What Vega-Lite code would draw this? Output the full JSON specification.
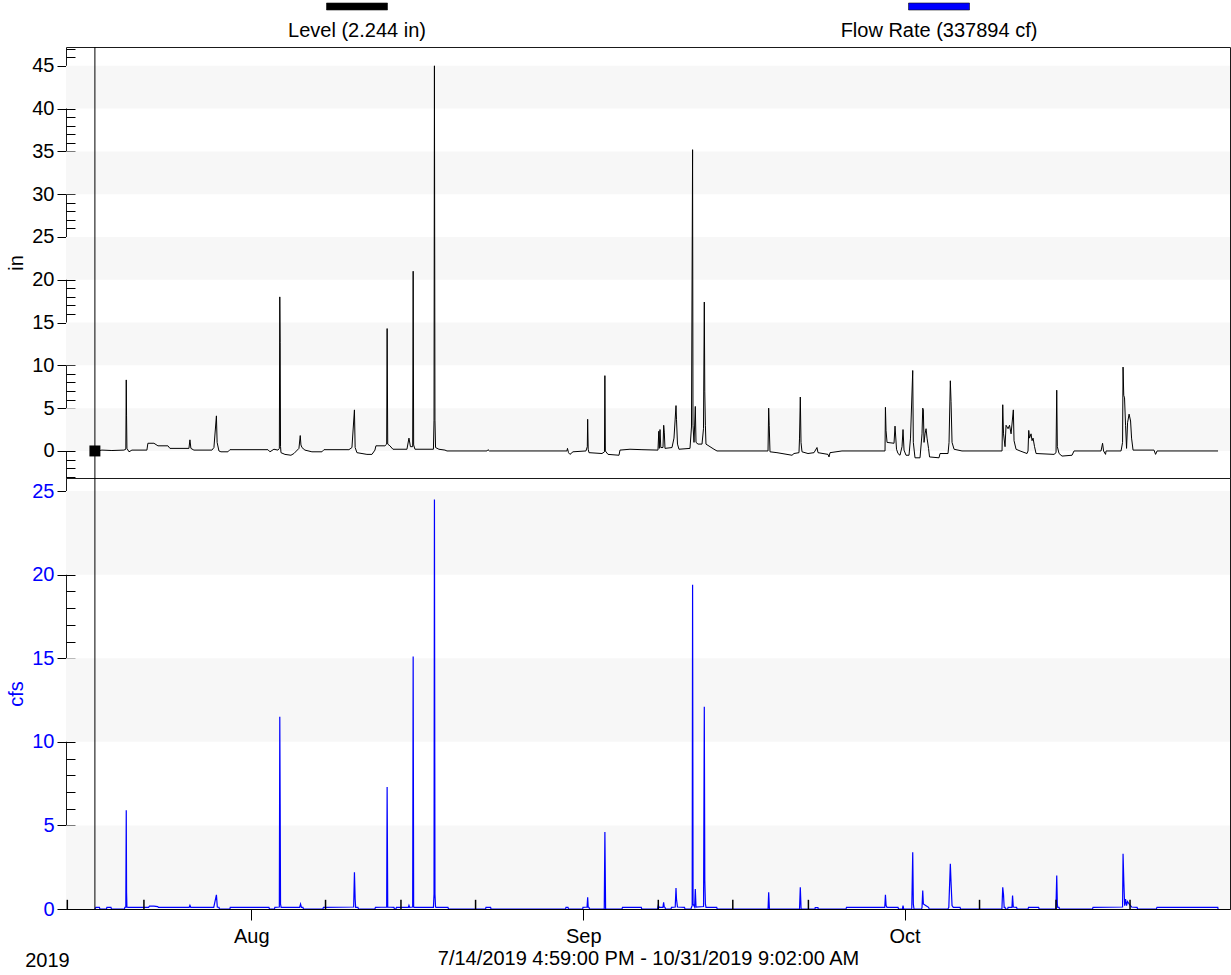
{
  "$schema": "https://vega.github.io/schema/vega-lite/v6.json",
  "background": "white",
  "padding": {"left": 6, "top": 0, "right": 3, "bottom": 0},
  "spacing": 0,
  "bounds": "flush",
  "config": {
    "font": "Liberation Sans",
    "view": {"stroke": "#1a1a1a", "strokeWidth": 1},
    "axis": {"labelFont": "Liberation Sans", "titleFont": "Liberation Sans", "labelFontSize": 20, "titleFontSize": 20, "titleFontWeight": "normal", "labelColor": "black", "titleColor": "black", "tickColor": "black", "domainColor": "black", "grid": false, "labelFlush": false},
    "tick": {"opacity": 1},
    "point": {"opacity": 1}
  },
  "datasets": {
    "legend": [{"series": "Level (2.244 in)"}, {"series": "Flow Rate (337894 cf)"}],
    "cursor": [{"t": "2019-07-17T09:45", "v": 0}],
    "bands1": [{"lo": 0, "hi": 5}, {"lo": 10, "hi": 15}, {"lo": 20, "hi": 25}, {"lo": 30, "hi": 35}, {"lo": 40, "hi": 45}],
    "bands2": [{"lo": 0, "hi": 5}, {"lo": 10, "hi": 15}, {"lo": 20, "hi": 25}],
    "marks": [
      {"t": "2019-07-14T19:55", "lo": 0, "h": 0.55}, {"t": "2019-07-21T23:35", "lo": 0, "h": 0.55}, {"t": "2019-08-07T22:30", "lo": 0, "h": 0.55},
      {"t": "2019-08-14T23:30", "lo": 0, "h": 0.55}, {"t": "2019-08-21T22:40", "lo": 0, "h": 0.55}, {"t": "2019-09-08T00:05", "lo": 0, "h": 0.55},
      {"t": "2019-09-14T23:00", "lo": 0, "h": 0.55}, {"t": "2019-09-22T00:25", "lo": 0, "h": 0.55}, {"t": "2019-10-07T23:50", "lo": 0, "h": 0.55},
      {"t": "2019-10-15T03:15", "lo": 0, "h": 0.55}, {"t": "2019-10-22T01:05", "lo": 0, "h": 0.55}
    ],
    "level": [
      {"t": "2019-07-17T14:15", "v": 0.0}, {"t": "2019-07-18T01:30", "v": 0.1}, {"t": "2019-07-18T23:50", "v": 0.05},
      {"t": "2019-07-20T02:45", "v": 0.1}, {"t": "2019-07-20T07:00", "v": 0.2}, {"t": "2019-07-20T08:00", "v": 8.3},
      {"t": "2019-07-20T08:40", "v": 4.1}, {"t": "2019-07-20T09:30", "v": 0.3}, {"t": "2019-07-20T14:10", "v": -0.1},
      {"t": "2019-07-20T20:40", "v": 0.1}, {"t": "2019-07-22T06:15", "v": 0.1}, {"t": "2019-07-22T08:30", "v": 0.9},
      {"t": "2019-07-22T22:00", "v": 0.9}, {"t": "2019-07-23T07:00", "v": 0.6}, {"t": "2019-07-24T05:20", "v": 0.6},
      {"t": "2019-07-24T09:50", "v": 0.3}, {"t": "2019-07-26T04:25", "v": 0.3}, {"t": "2019-07-26T06:40", "v": 1.3},
      {"t": "2019-07-26T08:50", "v": 0.3}, {"t": "2019-07-26T15:35", "v": 0.1}, {"t": "2019-07-28T07:55", "v": 0.1},
      {"t": "2019-07-28T12:25", "v": 0.4}, {"t": "2019-07-28T18:00", "v": 4.1}, {"t": "2019-07-28T19:35", "v": 1.0},
      {"t": "2019-07-28T23:40", "v": 0.0}, {"t": "2019-07-29T04:10", "v": -0.1}, {"t": "2019-07-29T19:45", "v": -0.1},
      {"t": "2019-07-30T00:15", "v": 0.15}, {"t": "2019-08-02T13:25", "v": 0.15}, {"t": "2019-08-02T17:55", "v": -0.1},
      {"t": "2019-08-03T02:50", "v": 0.2}, {"t": "2019-08-03T11:50", "v": 0.1}, {"t": "2019-08-03T15:00", "v": 0.3},
      {"t": "2019-08-03T16:00", "v": 18.0}, {"t": "2019-08-03T16:50", "v": 12.7}, {"t": "2019-08-03T17:40", "v": 0.5},
      {"t": "2019-08-03T18:40", "v": -0.2}, {"t": "2019-08-04T03:30", "v": -0.4}, {"t": "2019-08-04T17:00", "v": -0.5},
      {"t": "2019-08-04T23:40", "v": -0.3}, {"t": "2019-08-05T10:55", "v": 0.3}, {"t": "2019-08-05T13:50", "v": 1.8},
      {"t": "2019-08-05T15:25", "v": 0.7}, {"t": "2019-08-05T17:40", "v": 0.4}, {"t": "2019-08-06T00:20", "v": 0.1},
      {"t": "2019-08-06T16:00", "v": -0.1}, {"t": "2019-08-07T14:25", "v": -0.1}, {"t": "2019-08-07T18:55", "v": 0.15},
      {"t": "2019-08-10T02:55", "v": 0.15}, {"t": "2019-08-10T09:40", "v": 0.4}, {"t": "2019-08-10T15:15", "v": 4.8},
      {"t": "2019-08-10T16:50", "v": 0.4}, {"t": "2019-08-10T20:50", "v": -0.2}, {"t": "2019-08-11T19:15", "v": -0.4},
      {"t": "2019-08-12T06:30", "v": -0.4}, {"t": "2019-08-12T13:10", "v": 0.1}, {"t": "2019-08-12T15:25", "v": 0.6},
      {"t": "2019-08-13T11:35", "v": 0.6}, {"t": "2019-08-13T15:30", "v": 0.8}, {"t": "2019-08-13T16:30", "v": 14.3},
      {"t": "2019-08-13T17:50", "v": 0.8}, {"t": "2019-08-13T22:45", "v": 0.6}, {"t": "2019-08-14T05:30", "v": 0.2},
      {"t": "2019-08-15T12:55", "v": 0.2}, {"t": "2019-08-15T17:25", "v": 1.5}, {"t": "2019-08-15T20:45", "v": 0.5},
      {"t": "2019-08-16T01:45", "v": 0.5}, {"t": "2019-08-16T02:50", "v": 21.0}, {"t": "2019-08-16T03:55", "v": 0.7},
      {"t": "2019-08-16T06:50", "v": 0.2}, {"t": "2019-08-18T00:15", "v": 0.2}, {"t": "2019-08-18T01:35", "v": 3.6},
      {"t": "2019-08-18T02:30", "v": 45.0}, {"t": "2019-08-18T03:40", "v": 3.6}, {"t": "2019-08-18T05:00", "v": 0.4},
      {"t": "2019-08-18T12:35", "v": 0.2}, {"t": "2019-08-19T02:05", "v": 0.1}, {"t": "2019-08-19T06:35", "v": 0.0},
      {"t": "2019-08-23T00:10", "v": 0.0}, {"t": "2019-08-23T02:25", "v": 0.15}, {"t": "2019-08-23T05:50", "v": 0.0},
      {"t": "2019-08-30T11:25", "v": 0.0}, {"t": "2019-08-30T12:35", "v": 0.3}, {"t": "2019-08-30T14:50", "v": -0.2},
      {"t": "2019-08-30T18:10", "v": -0.4}, {"t": "2019-08-31T00:55", "v": -0.1}, {"t": "2019-09-01T06:00", "v": 0.0},
      {"t": "2019-09-01T09:00", "v": 0.5}, {"t": "2019-09-01T09:50", "v": 3.7}, {"t": "2019-09-01T11:00", "v": 0.2},
      {"t": "2019-09-01T12:45", "v": -0.2}, {"t": "2019-09-02T17:55", "v": -0.3}, {"t": "2019-09-02T23:30", "v": -0.1},
      {"t": "2019-09-03T00:25", "v": 8.8}, {"t": "2019-09-03T01:30", "v": 0.0}, {"t": "2019-09-03T07:20", "v": -0.4},
      {"t": "2019-09-04T08:00", "v": -0.5}, {"t": "2019-09-04T10:15", "v": 0.1}, {"t": "2019-09-05T08:40", "v": 0.2},
      {"t": "2019-09-06T11:30", "v": 0.15}, {"t": "2019-09-07T23:20", "v": 0.1}, {"t": "2019-09-08T01:10", "v": 2.3},
      {"t": "2019-09-08T02:20", "v": 0.3}, {"t": "2019-09-08T03:55", "v": 2.5}, {"t": "2019-09-08T05:40", "v": 0.4},
      {"t": "2019-09-08T10:35", "v": 0.4}, {"t": "2019-09-08T12:10", "v": 3.0}, {"t": "2019-09-08T13:30", "v": 2.2},
      {"t": "2019-09-08T15:05", "v": 0.3}, {"t": "2019-09-09T06:45", "v": 0.4}, {"t": "2019-09-09T11:15", "v": 1.5},
      {"t": "2019-09-09T15:45", "v": 5.3}, {"t": "2019-09-09T16:50", "v": 3.7}, {"t": "2019-09-09T19:05", "v": 0.8},
      {"t": "2019-09-09T22:25", "v": 0.2}, {"t": "2019-09-10T23:05", "v": 0.3}, {"t": "2019-09-11T02:25", "v": 2.8},
      {"t": "2019-09-11T04:55", "v": 35.2}, {"t": "2019-09-11T05:50", "v": 3.0}, {"t": "2019-09-11T08:05", "v": 1.0},
      {"t": "2019-09-11T11:00", "v": 5.2}, {"t": "2019-09-11T12:35", "v": 1.0}, {"t": "2019-09-11T17:05", "v": 0.8},
      {"t": "2019-09-12T02:00", "v": 0.8}, {"t": "2019-09-12T05:20", "v": 2.6}, {"t": "2019-09-12T07:10", "v": 17.4},
      {"t": "2019-09-12T08:15", "v": 6.9}, {"t": "2019-09-12T09:35", "v": 3.0}, {"t": "2019-09-12T10:55", "v": 0.8},
      {"t": "2019-09-12T19:55", "v": 0.5}, {"t": "2019-09-13T04:50", "v": 0.2}, {"t": "2019-09-13T11:35", "v": 0.0},
      {"t": "2019-09-18T05:55", "v": 0.0}, {"t": "2019-09-18T07:25", "v": 5.0}, {"t": "2019-09-18T08:35", "v": 3.0},
      {"t": "2019-09-18T10:20", "v": -0.1}, {"t": "2019-09-19T02:00", "v": -0.2}, {"t": "2019-09-20T11:40", "v": -0.5},
      {"t": "2019-09-20T16:10", "v": -0.3}, {"t": "2019-09-21T03:20", "v": -0.2}, {"t": "2019-09-21T04:30", "v": 1.5},
      {"t": "2019-09-21T06:15", "v": 6.3}, {"t": "2019-09-21T07:50", "v": 1.0}, {"t": "2019-09-21T10:05", "v": -0.1},
      {"t": "2019-09-21T23:30", "v": -0.3}, {"t": "2019-09-22T13:00", "v": -0.2}, {"t": "2019-09-22T19:40", "v": 0.4},
      {"t": "2019-09-22T21:55", "v": -0.2}, {"t": "2019-09-23T20:20", "v": -0.4}, {"t": "2019-09-23T22:35", "v": -0.7},
      {"t": "2019-09-24T00:50", "v": -0.2}, {"t": "2019-09-25T03:40", "v": 0.0}, {"t": "2019-09-29T04:05", "v": 0.0},
      {"t": "2019-09-29T05:00", "v": 5.1}, {"t": "2019-09-29T06:20", "v": 2.4}, {"t": "2019-09-29T08:35", "v": 1.0},
      {"t": "2019-09-30T00:15", "v": 0.9}, {"t": "2019-09-30T02:30", "v": 2.9}, {"t": "2019-09-30T05:50", "v": 0.2},
      {"t": "2019-09-30T09:10", "v": -0.3}, {"t": "2019-09-30T13:40", "v": -0.5}, {"t": "2019-09-30T18:10", "v": 0.5},
      {"t": "2019-09-30T20:25", "v": 2.5}, {"t": "2019-09-30T22:40", "v": 0.1}, {"t": "2019-10-01T03:05", "v": -0.5},
      {"t": "2019-10-01T09:50", "v": -0.5}, {"t": "2019-10-01T13:10", "v": 1.5}, {"t": "2019-10-01T18:10", "v": 9.4},
      {"t": "2019-10-01T19:30", "v": 1.0}, {"t": "2019-10-01T23:15", "v": -0.8}, {"t": "2019-10-02T10:30", "v": -0.8},
      {"t": "2019-10-02T15:00", "v": 2.0}, {"t": "2019-10-02T16:35", "v": 5.0}, {"t": "2019-10-02T17:55", "v": 4.8},
      {"t": "2019-10-02T19:30", "v": 1.0}, {"t": "2019-10-02T21:45", "v": 2.0}, {"t": "2019-10-03T00:00", "v": 2.6},
      {"t": "2019-10-03T02:15", "v": 1.5}, {"t": "2019-10-03T05:35", "v": 0.3}, {"t": "2019-10-03T07:50", "v": -0.7},
      {"t": "2019-10-04T05:05", "v": -0.8}, {"t": "2019-10-04T07:20", "v": -0.3}, {"t": "2019-10-05T01:15", "v": -0.3},
      {"t": "2019-10-05T03:30", "v": 1.0}, {"t": "2019-10-05T06:25", "v": 8.2}, {"t": "2019-10-05T08:00", "v": 5.8},
      {"t": "2019-10-05T10:15", "v": 1.0}, {"t": "2019-10-05T14:45", "v": 0.2}, {"t": "2019-10-06T08:35", "v": 0.0},
      {"t": "2019-10-10T02:15", "v": 0.0}, {"t": "2019-10-10T03:50", "v": 5.4}, {"t": "2019-10-10T05:35", "v": 2.0},
      {"t": "2019-10-10T09:00", "v": 0.5}, {"t": "2019-10-10T11:15", "v": 3.0}, {"t": "2019-10-10T15:45", "v": 2.6},
      {"t": "2019-10-10T19:05", "v": 3.0}, {"t": "2019-10-10T22:30", "v": 2.0}, {"t": "2019-10-11T03:35", "v": 4.8},
      {"t": "2019-10-11T05:10", "v": 1.2}, {"t": "2019-10-11T09:40", "v": 0.2}, {"t": "2019-10-11T18:40", "v": 0.0},
      {"t": "2019-10-12T10:15", "v": -0.3}, {"t": "2019-10-12T12:30", "v": 0.0}, {"t": "2019-10-12T14:05", "v": 2.4},
      {"t": "2019-10-12T15:50", "v": 1.5}, {"t": "2019-10-12T19:15", "v": 2.0}, {"t": "2019-10-12T21:30", "v": 1.2},
      {"t": "2019-10-12T23:45", "v": 1.5}, {"t": "2019-10-13T03:05", "v": 0.5}, {"t": "2019-10-13T06:30", "v": -0.3},
      {"t": "2019-10-14T22:45", "v": -0.4}, {"t": "2019-10-15T03:15", "v": -0.2}, {"t": "2019-10-15T04:50", "v": 7.1},
      {"t": "2019-10-15T06:10", "v": 0.5}, {"t": "2019-10-15T10:00", "v": -0.3}, {"t": "2019-10-15T16:40", "v": -0.6},
      {"t": "2019-10-16T15:05", "v": -0.5}, {"t": "2019-10-16T19:35", "v": 0.0}, {"t": "2019-10-19T08:05", "v": 0.0},
      {"t": "2019-10-19T11:30", "v": 0.9}, {"t": "2019-10-19T13:45", "v": 0.0}, {"t": "2019-10-19T18:10", "v": -0.4},
      {"t": "2019-10-19T19:20", "v": 0.0}, {"t": "2019-10-21T04:55", "v": 0.0}, {"t": "2019-10-21T08:20", "v": 1.0},
      {"t": "2019-10-21T09:25", "v": 9.8}, {"t": "2019-10-21T11:00", "v": 6.5}, {"t": "2019-10-21T12:45", "v": 6.2},
      {"t": "2019-10-21T15:00", "v": 3.0}, {"t": "2019-10-21T17:15", "v": 0.3}, {"t": "2019-10-21T19:30", "v": 3.3},
      {"t": "2019-10-21T22:55", "v": 4.3}, {"t": "2019-10-22T02:15", "v": 3.5}, {"t": "2019-10-22T04:30", "v": 1.5},
      {"t": "2019-10-22T07:50", "v": 0.1}, {"t": "2019-10-24T06:50", "v": 0.1}, {"t": "2019-10-24T10:15", "v": -0.4},
      {"t": "2019-10-24T13:35", "v": 0.0}, {"t": "2019-10-30T06:15", "v": 0.0}
    ],
    "flow": [
      {"t": "2019-07-17T09:45", "v": 0}, {"t": "2019-07-17T12:00", "v": 0.1}, {"t": "2019-07-17T19:50", "v": 0.1},
      {"t": "2019-07-17T21:00", "v": 0}, {"t": "2019-07-18T11:45", "v": 0}, {"t": "2019-07-18T12:40", "v": 0.1},
      {"t": "2019-07-18T21:40", "v": 0.1}, {"t": "2019-07-18T22:50", "v": 0}, {"t": "2019-07-20T03:50", "v": 0},
      {"t": "2019-07-20T05:00", "v": 0.1}, {"t": "2019-07-20T07:00", "v": 0.12}, {"t": "2019-07-20T08:00", "v": 5.9},
      {"t": "2019-07-20T08:40", "v": 1.0}, {"t": "2019-07-20T09:30", "v": 0.12}, {"t": "2019-07-20T12:00", "v": 0.1},
      {"t": "2019-07-22T10:00", "v": 0.1}, {"t": "2019-07-22T12:00", "v": 0.17}, {"t": "2019-07-22T22:00", "v": 0.17},
      {"t": "2019-07-23T06:15", "v": 0.14}, {"t": "2019-07-23T08:00", "v": 0.1}, {"t": "2019-07-26T05:00", "v": 0.1},
      {"t": "2019-07-26T06:40", "v": 0.22}, {"t": "2019-07-26T08:30", "v": 0.1}, {"t": "2019-07-28T12:00", "v": 0.1},
      {"t": "2019-07-28T18:00", "v": 0.85}, {"t": "2019-07-28T20:00", "v": 0.12}, {"t": "2019-07-28T23:40", "v": 0.1},
      {"t": "2019-07-29T00:50", "v": 0}, {"t": "2019-07-30T00:15", "v": 0}, {"t": "2019-07-30T01:00", "v": 0.1},
      {"t": "2019-08-02T15:40", "v": 0.1}, {"t": "2019-08-02T16:50", "v": 0}, {"t": "2019-08-03T04:00", "v": 0},
      {"t": "2019-08-03T05:00", "v": 0.1}, {"t": "2019-08-03T15:00", "v": 0.12}, {"t": "2019-08-03T16:00", "v": 11.5},
      {"t": "2019-08-03T16:50", "v": 6.3}, {"t": "2019-08-03T17:40", "v": 0.3}, {"t": "2019-08-03T19:00", "v": 0.1},
      {"t": "2019-08-05T12:30", "v": 0.1}, {"t": "2019-08-05T14:30", "v": 0.3}, {"t": "2019-08-05T16:30", "v": 0.1},
      {"t": "2019-08-05T19:50", "v": 0.1}, {"t": "2019-08-05T21:00", "v": 0}, {"t": "2019-08-07T16:40", "v": 0},
      {"t": "2019-08-07T17:50", "v": 0.1}, {"t": "2019-08-10T13:30", "v": 0.12}, {"t": "2019-08-10T15:15", "v": 2.2},
      {"t": "2019-08-10T16:50", "v": 0.6}, {"t": "2019-08-10T18:00", "v": 0.1}, {"t": "2019-08-10T23:05", "v": 0.1},
      {"t": "2019-08-11T00:15", "v": 0}, {"t": "2019-08-12T13:10", "v": 0}, {"t": "2019-08-12T14:20", "v": 0.1},
      {"t": "2019-08-13T15:30", "v": 0.12}, {"t": "2019-08-13T16:30", "v": 7.3}, {"t": "2019-08-13T17:50", "v": 0.12},
      {"t": "2019-08-14T07:45", "v": 0.1}, {"t": "2019-08-14T08:50", "v": 0}, {"t": "2019-08-14T12:10", "v": 0},
      {"t": "2019-08-14T13:20", "v": 0.1}, {"t": "2019-08-15T16:00", "v": 0.1}, {"t": "2019-08-15T17:25", "v": 0.22},
      {"t": "2019-08-15T19:00", "v": 0.1}, {"t": "2019-08-16T01:45", "v": 0.12}, {"t": "2019-08-16T02:50", "v": 15.1},
      {"t": "2019-08-16T03:55", "v": 0.12}, {"t": "2019-08-16T05:00", "v": 0.1}, {"t": "2019-08-18T00:15", "v": 0.1},
      {"t": "2019-08-18T01:35", "v": 0.9}, {"t": "2019-08-18T02:30", "v": 24.5}, {"t": "2019-08-18T03:40", "v": 0.9},
      {"t": "2019-08-18T05:00", "v": 0.12}, {"t": "2019-08-18T07:00", "v": 0.1}, {"t": "2019-08-19T08:45", "v": 0.1},
      {"t": "2019-08-19T10:00", "v": 0}, {"t": "2019-08-22T21:05", "v": 0}, {"t": "2019-08-22T22:00", "v": 0.1},
      {"t": "2019-08-23T08:20", "v": 0.1}, {"t": "2019-08-23T09:15", "v": 0}, {"t": "2019-08-30T08:20", "v": 0},
      {"t": "2019-08-30T09:15", "v": 0.1}, {"t": "2019-08-30T13:45", "v": 0.1}, {"t": "2019-08-30T14:50", "v": 0},
      {"t": "2019-08-31T22:40", "v": 0}, {"t": "2019-08-31T23:20", "v": 0.1}, {"t": "2019-09-01T08:30", "v": 0.12},
      {"t": "2019-09-01T09:50", "v": 0.7}, {"t": "2019-09-01T11:00", "v": 0.12}, {"t": "2019-09-01T12:45", "v": 0.1},
      {"t": "2019-09-01T14:00", "v": 0}, {"t": "2019-09-02T23:00", "v": 0}, {"t": "2019-09-03T00:25", "v": 4.6},
      {"t": "2019-09-03T02:00", "v": 0}, {"t": "2019-09-04T14:45", "v": 0}, {"t": "2019-09-04T15:50", "v": 0.1},
      {"t": "2019-09-06T09:55", "v": 0.1}, {"t": "2019-09-06T11:00", "v": 0}, {"t": "2019-09-07T22:15", "v": 0},
      {"t": "2019-09-08T00:00", "v": 0.22}, {"t": "2019-09-08T02:00", "v": 0.1}, {"t": "2019-09-08T10:30", "v": 0.1},
      {"t": "2019-09-08T12:00", "v": 0.4}, {"t": "2019-09-08T13:30", "v": 0.12}, {"t": "2019-09-08T15:05", "v": 0.1},
      {"t": "2019-09-08T16:15", "v": 0}, {"t": "2019-09-09T04:30", "v": 0}, {"t": "2019-09-09T05:40", "v": 0.1},
      {"t": "2019-09-09T14:00", "v": 0.12}, {"t": "2019-09-09T15:45", "v": 1.25}, {"t": "2019-09-09T16:50", "v": 0.6},
      {"t": "2019-09-09T19:00", "v": 0.12}, {"t": "2019-09-10T10:45", "v": 0.1}, {"t": "2019-09-10T11:50", "v": 0},
      {"t": "2019-09-11T01:15", "v": 0}, {"t": "2019-09-11T02:25", "v": 0.1}, {"t": "2019-09-11T04:00", "v": 0.2},
      {"t": "2019-09-11T04:55", "v": 19.4}, {"t": "2019-09-11T06:00", "v": 0.3}, {"t": "2019-09-11T09:30", "v": 0.12},
      {"t": "2019-09-11T11:00", "v": 1.2}, {"t": "2019-09-11T12:35", "v": 0.12}, {"t": "2019-09-12T05:30", "v": 0.15},
      {"t": "2019-09-12T07:10", "v": 12.1}, {"t": "2019-09-12T08:15", "v": 1.75}, {"t": "2019-09-12T09:35", "v": 0.3},
      {"t": "2019-09-12T11:00", "v": 0.1}, {"t": "2019-09-13T10:55", "v": 0.1}, {"t": "2019-09-13T12:00", "v": 0},
      {"t": "2019-09-18T06:00", "v": 0}, {"t": "2019-09-18T07:25", "v": 1.0}, {"t": "2019-09-18T09:00", "v": 0},
      {"t": "2019-09-21T04:30", "v": 0}, {"t": "2019-09-21T06:15", "v": 1.3}, {"t": "2019-09-21T08:00", "v": 0},
      {"t": "2019-09-22T15:10", "v": 0}, {"t": "2019-09-22T15:40", "v": 0.08}, {"t": "2019-09-22T21:50", "v": 0.08},
      {"t": "2019-09-22T22:20", "v": 0}, {"t": "2019-09-25T12:40", "v": 0}, {"t": "2019-09-25T13:50", "v": 0.1},
      {"t": "2019-09-29T03:30", "v": 0.1}, {"t": "2019-09-29T05:00", "v": 0.85}, {"t": "2019-09-29T06:30", "v": 0.2},
      {"t": "2019-09-29T08:30", "v": 0.1}, {"t": "2019-09-30T09:10", "v": 0.1}, {"t": "2019-09-30T10:20", "v": 0},
      {"t": "2019-09-30T19:00", "v": 0}, {"t": "2019-09-30T20:25", "v": 0.2}, {"t": "2019-09-30T22:00", "v": 0},
      {"t": "2019-10-01T16:00", "v": 0}, {"t": "2019-10-01T18:10", "v": 3.4}, {"t": "2019-10-01T19:30", "v": 0.3},
      {"t": "2019-10-01T21:00", "v": 0}, {"t": "2019-10-02T14:00", "v": 0}, {"t": "2019-10-02T15:00", "v": 0.1},
      {"t": "2019-10-02T16:35", "v": 1.1}, {"t": "2019-10-02T18:00", "v": 0.3}, {"t": "2019-10-03T00:00", "v": 0.2},
      {"t": "2019-10-03T05:35", "v": 0.1}, {"t": "2019-10-03T07:00", "v": 0}, {"t": "2019-10-05T01:00", "v": 0},
      {"t": "2019-10-05T03:00", "v": 0.1}, {"t": "2019-10-05T06:25", "v": 2.7}, {"t": "2019-10-05T08:00", "v": 1.6},
      {"t": "2019-10-05T10:15", "v": 0.2}, {"t": "2019-10-05T13:00", "v": 0.1}, {"t": "2019-10-06T04:10", "v": 0.1},
      {"t": "2019-10-06T05:15", "v": 0}, {"t": "2019-10-10T02:00", "v": 0}, {"t": "2019-10-10T03:50", "v": 1.3},
      {"t": "2019-10-10T05:35", "v": 0.85}, {"t": "2019-10-10T07:00", "v": 0.1}, {"t": "2019-10-10T09:00", "v": 0.1},
      {"t": "2019-10-10T10:00", "v": 0}, {"t": "2019-10-10T15:00", "v": 0}, {"t": "2019-10-10T15:45", "v": 0.1},
      {"t": "2019-10-11T00:30", "v": 0.1}, {"t": "2019-10-11T01:50", "v": 0.8}, {"t": "2019-10-11T03:30", "v": 0.12},
      {"t": "2019-10-11T10:50", "v": 0.1}, {"t": "2019-10-11T12:00", "v": 0}, {"t": "2019-10-12T12:30", "v": 0},
      {"t": "2019-10-12T13:40", "v": 0.1}, {"t": "2019-10-13T12:15", "v": 0.1}, {"t": "2019-10-13T13:20", "v": 0},
      {"t": "2019-10-15T03:00", "v": 0}, {"t": "2019-10-15T04:50", "v": 2.0}, {"t": "2019-10-15T06:10", "v": 0.3},
      {"t": "2019-10-15T07:00", "v": 0.1}, {"t": "2019-10-15T10:00", "v": 0.1}, {"t": "2019-10-15T11:00", "v": 0},
      {"t": "2019-10-18T13:00", "v": 0}, {"t": "2019-10-18T14:10", "v": 0.1}, {"t": "2019-10-21T08:20", "v": 0.12},
      {"t": "2019-10-21T09:25", "v": 3.3}, {"t": "2019-10-21T11:00", "v": 1.75}, {"t": "2019-10-21T13:00", "v": 0.2},
      {"t": "2019-10-21T15:00", "v": 0.6}, {"t": "2019-10-21T17:15", "v": 0.2}, {"t": "2019-10-21T19:30", "v": 0.45},
      {"t": "2019-10-21T22:55", "v": 0.3}, {"t": "2019-10-22T04:30", "v": 0.12}, {"t": "2019-10-22T16:45", "v": 0.1},
      {"t": "2019-10-22T18:00", "v": 0}, {"t": "2019-10-24T12:00", "v": 0}, {"t": "2019-10-24T13:30", "v": 0.1},
      {"t": "2019-10-30T05:40", "v": 0.1}, {"t": "2019-10-30T06:15", "v": 0}
    ]
  },
  "vconcat": [
    {
      "width": 1164,
      "height": 47,
      "view": {"stroke": null},
      "data": {"name": "legend"},
      "layer": [
        {
          "mark": {"type": "tick", "orient": "horizontal", "size": 61, "thickness": 7, "opacity": 1, "stroke": "#111", "strokeWidth": 0.6},
          "encoding": {
            "x": {"field": "series", "type": "nominal", "sort": null, "scale": {"type": "point", "padding": 0.5, "domain": ["Level (2.244 in)", "Flow Rate (337894 cf)"]}, "axis": null},
            "y": {"datum": "bar", "type": "nominal", "scale": {"type": "point", "padding": 0, "domain": ["bar", "label"], "range": [6.5, 31]}, "axis": null},
            "color": {"field": "series", "type": "nominal", "scale": {"domain": ["Level (2.244 in)", "Flow Rate (337894 cf)"], "range": ["#000000", "#0000ff"]}, "legend": null}
          }
        },
        {
          "mark": {"type": "text", "fontSize": 20, "font": "Liberation Sans", "baseline": "middle", "color": "black"},
          "encoding": {
            "x": {"field": "series", "type": "nominal", "sort": null, "scale": {"type": "point", "padding": 0.5, "domain": ["Level (2.244 in)", "Flow Rate (337894 cf)"]}, "axis": null},
            "y": {"datum": "label", "type": "nominal", "scale": {"type": "point", "padding": 0, "domain": ["bar", "label"], "range": [6.5, 31]}, "axis": null},
            "text": {"field": "series", "type": "nominal"}
          }
        }
      ]
    },
    {
      "width": 1164,
      "height": 431,
      "resolve": {"axis": {"y": "independent"}},
      "layer": [
        {
          "data": {"name": "bands1"},
          "mark": {"type": "rect", "color": "#f7f7f7"},
          "encoding": {
            "y": {"field": "lo", "type": "quantitative", "scale": {"domain": [-3.16, 47.2], "nice": false, "zero": false},
                  "axis": {"orient": "left", "values": [-3,-2,-1,0,1,2,3,4,5,6,7,8,9,10,11,12,13,14,15,16,17,18,19,20,21,22,23,24,25,26,27,28,29,30,31,32,33,34,35,36,37,38,39,40,41,42,43,44,45,46,47], "tickSize": -9, "labels": false, "domain": false, "title": null}},
            "y2": {"field": "hi"}
          }
        },
        {
          "data": {"name": "level"},
          "mark": {"type": "line", "color": "#000000", "strokeWidth": 1},
          "encoding": {
            "x": {"field": "t", "type": "temporal", "scale": {"domain": [{"year": 2019, "month": 7, "date": 14, "hours": 16, "minutes": 59}, {"year": 2019, "month": 10, "date": 31, "hours": 9, "minutes": 2}]}, "axis": null},
            "y": {"field": "v", "type": "quantitative", "scale": {"domain": [-3.16, 47.2], "nice": false, "zero": false},
                  "axis": {"orient": "left", "values": [0, 5, 10, 15, 20, 25, 30, 35, 40, 45], "tickSize": 9, "labelPadding": 3, "domain": false, "title": "in", "titlePadding": 5}}
          }
        },
        {
          "data": {"name": "cursor"},
          "mark": {"type": "rule", "color": "#000000", "strokeWidth": 1},
          "encoding": {
            "x": {"field": "t", "type": "temporal", "axis": null}
          }
        },
        {
          "data": {"name": "cursor"},
          "mark": {"type": "point", "shape": "square", "size": 120, "filled": true, "color": "#000000", "opacity": 1},
          "encoding": {
            "x": {"field": "t", "type": "temporal", "axis": null},
            "y": {"field": "v", "type": "quantitative", "axis": null}
          }
        }
      ]
    },
    {
      "width": 1164,
      "height": 431,
      "resolve": {"axis": {"x": "independent", "y": "independent"}},
      "layer": [
        {
          "data": {"name": "bands2"},
          "mark": {"type": "rect", "color": "#f7f7f7"},
          "encoding": {
            "y": {"field": "lo", "type": "quantitative", "scale": {"domain": [0, 25.78], "nice": false},
                  "axis": {"orient": "left", "values": [0,1,2,3,4,5,6,7,8,9,10,11,12,13,14,15,16,17,18,19,20,21,22,23,24,25], "tickSize": -9, "labels": false, "domain": false, "title": null}},
            "y2": {"field": "hi"}
          }
        },
        {
          "data": {"name": "flow"},
          "mark": {"type": "line", "color": "#0000ff", "strokeWidth": 1.2},
          "encoding": {
            "x": {"field": "t", "type": "temporal", "scale": {"domain": [{"year": 2019, "month": 7, "date": 14, "hours": 16, "minutes": 59}, {"year": 2019, "month": 10, "date": 31, "hours": 9, "minutes": 2}]},
                  "axis": {"orient": "bottom", "values": [{"year": 2019, "month": 8, "date": 1}, {"year": 2019, "month": 9, "date": 1}, {"year": 2019, "month": 10, "date": 1}], "format": "%b", "tickSize": 11, "labelPadding": 6, "labelFlush": false, "domain": true, "domainColor": "#000000", "zindex": 1, "title": "7/14/2019 4:59:00 PM - 10/31/2019 9:02:00 AM", "titlePadding": 2}},
            "y": {"field": "v", "type": "quantitative", "scale": {"domain": [0, 25.78], "nice": false},
                  "axis": {"orient": "left", "values": [0, 5, 10, 15, 20, 25], "tickSize": 9, "labelPadding": 3, "labelColor": "#0000ff", "domain": false, "title": "cfs", "titleColor": "#0000ff", "titlePadding": 5}}
          }
        },
        {
          "data": {"name": "marks"},
          "mark": {"type": "rule", "color": "#000000", "strokeWidth": 1.5},
          "encoding": {
            "x": {"field": "t", "type": "temporal", "axis": null},
            "y": {"field": "lo", "type": "quantitative", "axis": null},
            "y2": {"field": "h"}
          }
        },
        {
          "data": {"name": "cursor"},
          "mark": {"type": "rule", "color": "#000000", "strokeWidth": 1},
          "encoding": {
            "x": {"field": "t", "type": "temporal",
                  "axis": {"orient": "bottom", "values": [{"year": 2019, "month": 7, "date": 14, "hours": 16, "minutes": 59}], "format": "%Y", "ticks": false, "tickSize": 0, "domain": false, "labelPadding": 41, "labelOffset": -19, "labelAlign": "center", "labelFlush": false, "title": null}}
          }
        }
      ]
    }
  ]
}
